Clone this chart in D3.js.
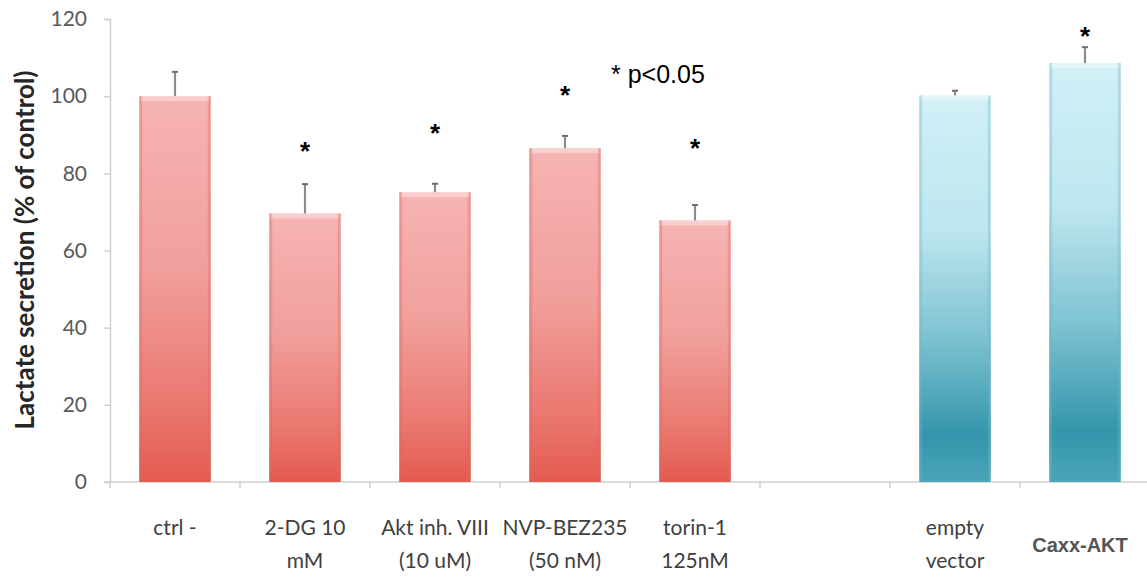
<!DOCTYPE html>
<html>
<head>
<meta charset="utf-8">
<script src="https://cdn.jsdelivr.net/npm/d3@7"></script>
<style>
  html, body { margin: 0; padding: 0; background: #fff; }
  svg { display: block; }
</style>
</head>
<body>
<div id="chart"></div>
<script>
// Lactate secretion bar chart

// categories ("" is the empty slot between the two groups)
const categories = ["ctrl -", "2-DG 10 mM", "Akt inh. VIII (10 uM)", "NVP-BEZ235 (50 nM)", "torin-1 125nM", "", "empty vector", "Caxx-AKT"];
const labelLines = [["ctrl -"], ["2-DG 10", "mM"], ["Akt inh. VIII", "(10 uM)"], ["NVP-BEZ235", "(50 nM)"], ["torin-1", "125nM"], [], ["empty", "vector"], ["Caxx-AKT"]];
const values = [100, 69.6, 75.1, 86.5, 67.8, null, 100.2, 108.6];
const errors = [6.3, 7.6, 2.2, 3.2, 4.0, null, 1.2, 4.1];
const groups = ["red", "red", "red", "red", "red", null, "teal", "teal"];
// asterisks, given as the y value where each star sits
const starCats = ["2-DG 10 mM", "Akt inh. VIII (10 uM)", "NVP-BEZ235 (50 nM)", "torin-1 125nM", "Caxx-AKT"];
const starValues = [87.3, 92.0, 101.8, 88.2, 117.2];
const yTicks = [0, 20, 40, 60, 80, 100, 120];

const width = 1147, height = 577;
const margin = { left: 110, top: 19, bottom: 95 };
const plotRight = 1150;

const svg = d3.select("#chart").append("svg")
    .attr("width", width)
    .attr("height", height);

const defs = svg.append("defs");

// gradients for the two bar groups
const redGrad = defs.append("linearGradient")
    .attr("id", "grad-red").attr("x1", 0).attr("y1", 0).attr("x2", 0).attr("y2", 1);
[[0, "#f6b4b3"], [0.45, "#f19f9c"], [0.8, "#ea7870"], [1, "#e35a4f"]].forEach(s => {
    redGrad.append("stop").attr("offset", s[0]).attr("stop-color", s[1]);
});
const tealGrad = defs.append("linearGradient")
    .attr("id", "grad-teal").attr("x1", 0).attr("y1", 0).attr("x2", 0).attr("y2", 1);
[[0, "#d2f0f6"], [0.35, "#bde6ef"], [0.62, "#7fc3d2"], [0.88, "#3395ab"], [1, "#4aa5b9"]].forEach(s => {
    tealGrad.append("stop").attr("offset", s[0]).attr("stop-color", s[1]);
});
const edgeColor = { red: "#d9665e", teal: "#6fb5c5" };

const x = d3.scaleBand()
    .domain(categories.map((c, i) => c || "gap" + i))
    .range([margin.left, plotRight])
    .paddingInner(0.45)
    .paddingOuter(0.225);
const key = i => categories[i] || "gap" + i;

const y = d3.scaleLinear()
    .domain([0, 120])
    .range([height - margin.bottom, margin.top]);

const axisColor = "#d0d0d0";

// y axis
const yAxis = svg.append("g")
    .attr("transform", `translate(${margin.left},0)`)
    .call(d3.axisLeft(y).tickValues(yTicks).tickSize(6).tickPadding(17));
yAxis.select(".domain").attr("stroke", axisColor).attr("stroke-width", 1.5);
yAxis.selectAll(".tick line").attr("stroke", axisColor).attr("stroke-width", 1.5);
yAxis.selectAll(".tick text")
    .attr("font-family", "Lato, sans-serif")
    .attr("font-size", "21px")
    .attr("fill", "#595959");

// x axis line and boundary ticks
const step = x.step();
svg.append("line")
    .attr("x1", margin.left - 6).attr("x2", width)
    .attr("y1", y(0)).attr("y2", y(0))
    .attr("stroke", axisColor).attr("stroke-width", 1.5);
categories.forEach((c, i) => {
    const bx = x(key(i)) + x.bandwidth() / 2 - step / 2;
    svg.append("line")
        .attr("x1", bx).attr("x2", bx)
        .attr("y1", y(0)).attr("y2", y(0) + 6)
        .attr("stroke", axisColor).attr("stroke-width", 1.5);
});

// bars
const bw = x.bandwidth();
categories.forEach((c, i) => {
    if (values[i] == null) return;
    const bx = x(key(i));
    const top = y(values[i]);
    const h = y(0) - top;
    const g = svg.append("g");
    g.append("rect")
        .attr("x", bx).attr("y", top)
        .attr("width", bw).attr("height", h)
        .attr("fill", `url(#grad-${groups[i]})`);
    // bevel edges
    g.append("rect")
        .attr("x", bx).attr("y", top).attr("width", 3).attr("height", h)
        .attr("fill", edgeColor[groups[i]]).attr("opacity", 0.35);
    g.append("rect")
        .attr("x", bx + bw - 3).attr("y", top).attr("width", 3).attr("height", h)
        .attr("fill", edgeColor[groups[i]]).attr("opacity", 0.35);
    g.append("rect")
        .attr("x", bx + 2).attr("y", top).attr("width", bw - 4).attr("height", 5)
        .attr("fill", "#fff").attr("opacity", 0.35);

    // error bar
    const cx = bx + bw / 2;
    const et = y(values[i] + errors[i]);
    g.append("line")
        .attr("x1", cx).attr("x2", cx).attr("y1", top).attr("y2", et)
        .attr("stroke", "#8c8c8c").attr("stroke-width", 2.2);
    g.append("line")
        .attr("x1", cx - 3).attr("x2", cx + 3).attr("y1", et).attr("y2", et)
        .attr("stroke", "#6e6e6e").attr("stroke-width", 2);
});

// category labels
categories.forEach((c, i) => {
    const lines = labelLines[i];
    if (!lines.length) return;
    const cx = x(key(i)) + bw / 2;
    if (c === "Caxx-AKT") {
        svg.append("text")
            .attr("x", cx - 5).attr("y", 552)
            .attr("text-anchor", "middle")
            .attr("font-family", "'Liberation Sans', Arial, sans-serif")
            .attr("font-weight", "bold")
            .attr("font-size", "20px")
            .attr("fill", "#555")
            .text(c);
        return;
    }
    lines.forEach((t, j) => {
        svg.append("text")
            .attr("x", cx).attr("y", 535 + j * 33)
            .attr("text-anchor", "middle")
            .attr("font-family", "Lato, sans-serif")
            .attr("font-size", "21px")
            .attr("fill", "#404040")
            .text(t);
    });
});

// significance stars
starCats.forEach((c, i) => {
    svg.append("text")
        .attr("x", x(c) + bw / 2)
        .attr("y", y(starValues[i]) + 15)
        .attr("text-anchor", "middle")
        .attr("font-family", "'Liberation Sans', Arial, sans-serif")
        .attr("font-weight", "bold")
        .attr("font-size", "26px")
        .attr("fill", "#000")
        .text("*");
});

svg.append("text")
    .attr("x", 611).attr("y", 83)
    .attr("font-family", "'Liberation Sans', Arial, sans-serif")
    .attr("font-size", "25px")
    .attr("fill", "#000")
    .text("* p<0.05");

// y axis title
svg.append("text")
    .attr("transform", "translate(34,250) rotate(-90)")
    .attr("text-anchor", "middle")
    .attr("font-family", "Lato, sans-serif")
    .attr("font-weight", "bold")
    .attr("font-size", "26px")
    .attr("fill", "#262626")
    .text("Lactate secretion (% of control)");
</script>
</body>
</html>
